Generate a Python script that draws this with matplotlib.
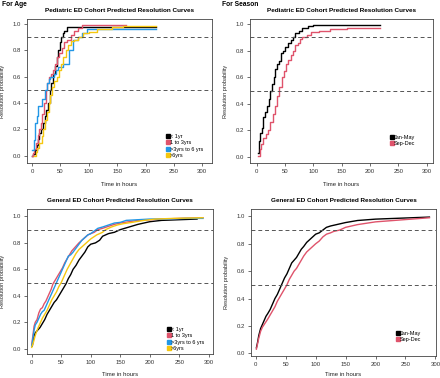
import matplotlib
matplotlib.use("Agg")
import matplotlib.pyplot as plt
from matplotlib.lines import Line2D

plt.rcParams['font.family'] = ['Liberation Sans', 'DejaVu Sans']

BLACK = "black"
RED = "#DF536B"
BLUE = "#2297E6"
GOLD = "#F5C710"

AGE_LABELS = ["< 1yr", "1 to 3yrs", ">3yrs to 6 yrs", ">6yrs"]
SEASON_LABELS = ["Jan-May", "Sep-Dec"]

# --- Pediatric ED cohort, by age (time in hours, resolution probability) ---
ped_lt1_t = [0, 2, 5, 8, 10, 13, 16, 19, 22, 25, 28, 31, 34, 37, 40, 43, 46, 49, 51, 54, 57, 61, 218]
ped_lt1_p = [0, 0.01, 0.04, 0.08, 0.13, 0.17, 0.2, 0.25, 0.3, 0.35, 0.4, 0.5, 0.55, 0.62, 0.68, 0.75,
             0.8, 0.86, 0.9, 0.93, 0.95, 0.98, 0.98]
ped_1to3_t = [0, 2, 4, 7, 10, 12, 15, 18, 21, 24, 27, 30, 33, 36, 40, 44, 48, 52, 56, 62, 68, 74, 80, 88, 165]
ped_1to3_p = [0, 0.02, 0.05, 0.1, 0.16, 0.2, 0.25, 0.32, 0.4, 0.5, 0.55, 0.6, 0.62, 0.65, 0.7, 0.75,
              0.78, 0.82, 0.86, 0.88, 0.92, 0.95, 0.97, 0.99, 0.99]
ped_3to6_t = [0, 3, 5, 8, 10, 18, 22, 26, 29, 32, 38, 42, 46, 55, 65, 72, 80, 88, 96, 218]
ped_3to6_p = [0.04, 0.12, 0.25, 0.3, 0.38, 0.43, 0.5, 0.55, 0.58, 0.6, 0.62, 0.65, 0.67, 0.7, 0.8,
              0.88, 0.9, 0.93, 0.96, 0.96]
ped_gt6_t = [3, 6, 9, 13, 17, 20, 23, 26, 29, 32, 35, 39, 43, 47, 51, 55, 59, 63, 68, 74, 80, 90,
             100, 115, 140, 160, 218]
ped_gt6_p = [0, 0.03, 0.06, 0.1, 0.15, 0.2, 0.27, 0.33, 0.4, 0.46, 0.52, 0.57, 0.6, 0.65, 0.7, 0.75,
             0.8, 0.84, 0.87, 0.88, 0.9, 0.93, 0.94, 0.96, 0.975, 0.985, 0.985]

# --- Pediatric ED cohort, by season ---
ped_jan_t = [2, 4, 6, 9, 12, 15, 18, 21, 24, 27, 30, 33, 36, 40, 43, 46, 50, 55, 60, 64, 68, 74, 80,
             90, 100, 130, 218]
ped_jan_p = [0.03, 0.12, 0.18, 0.22, 0.3, 0.34, 0.38, 0.44, 0.5, 0.55, 0.6, 0.66, 0.7, 0.72, 0.78,
             0.8, 0.83, 0.86, 0.88, 0.9, 0.93, 0.95, 0.97, 0.985, 0.99, 0.995, 0.995]
ped_sep_t = [2, 5, 8, 12, 16, 20, 24, 28, 32, 36, 40, 44, 48, 52, 56, 60, 64, 68, 72, 76, 80, 88, 96,
             110, 130, 160, 218]
ped_sep_p = [0.01, 0.06, 0.1, 0.14, 0.17, 0.2, 0.26, 0.32, 0.38, 0.46, 0.53, 0.6, 0.65, 0.7, 0.73,
             0.77, 0.8, 0.84, 0.86, 0.89, 0.9, 0.92, 0.94, 0.95, 0.96, 0.97, 0.97]

# --- General ED cohort, by age ---
gen_lt1_t = [1, 3, 6, 10, 14, 18, 22, 26, 30, 34, 38, 42, 46, 50, 54, 58, 62, 66, 70, 75, 80, 85, 90,
             95, 100, 108, 115, 120, 130, 140, 150, 165, 180, 200, 220, 250, 280]
gen_lt1_p = [0.02, 0.08, 0.12, 0.14, 0.16, 0.19, 0.22, 0.26, 0.29, 0.32, 0.35, 0.37, 0.4, 0.43, 0.46,
             0.49, 0.53, 0.56, 0.6, 0.63, 0.67, 0.7, 0.73, 0.77, 0.79, 0.8, 0.82, 0.85, 0.87, 0.88,
             0.9, 0.92, 0.94, 0.96, 0.97, 0.975, 0.98]
gen_1to3_t = [0, 2, 4, 6, 9, 12, 15, 18, 21, 24, 27, 30, 33, 36, 40, 44, 48, 52, 56, 60, 64, 68, 72,
              76, 80, 85, 90, 95, 100, 106, 112, 120, 130, 140, 150, 165, 180, 200, 220, 250, 290]
gen_1to3_p = [0.03, 0.1, 0.17, 0.2, 0.22, 0.27, 0.3, 0.31, 0.34, 0.36, 0.39, 0.42, 0.45, 0.49, 0.52,
              0.55, 0.58, 0.61, 0.65, 0.68, 0.71, 0.74, 0.76, 0.78, 0.8, 0.82, 0.84, 0.86, 0.87, 0.88,
              0.9, 0.91, 0.925, 0.94, 0.95, 0.96, 0.97, 0.975, 0.98, 0.985, 0.99]
gen_3to6_t = [0, 2, 4, 6, 9, 12, 15, 18, 21, 24, 27, 30, 34, 38, 42, 46, 50, 54, 58, 62, 66, 70, 75,
              80, 85, 90, 95, 100, 106, 112, 120, 130, 140, 150, 160, 180, 200, 230, 260, 290]
gen_3to6_p = [0.02, 0.08, 0.14, 0.18, 0.2, 0.23, 0.26, 0.28, 0.29, 0.32, 0.35, 0.38, 0.42, 0.46, 0.5,
              0.54, 0.58, 0.62, 0.66, 0.7, 0.71, 0.73, 0.76, 0.79, 0.82, 0.84, 0.86, 0.87, 0.89, 0.91,
              0.92, 0.935, 0.95, 0.955, 0.97, 0.975, 0.98, 0.98, 0.985, 0.985]
gen_gt6_t = [0, 3, 6, 10, 14, 18, 22, 26, 30, 34, 38, 42, 46, 50, 55, 60, 65, 70, 75, 80, 85, 90, 95,
             100, 110, 120, 125, 135, 145, 155, 170, 190, 210, 240, 290]
gen_gt6_p = [0.01, 0.05, 0.1, 0.15, 0.19, 0.23, 0.26, 0.29, 0.33, 0.37, 0.4, 0.43, 0.47, 0.5, 0.55,
             0.6, 0.64, 0.68, 0.72, 0.75, 0.77, 0.79, 0.81, 0.83, 0.86, 0.88, 0.9, 0.92, 0.935, 0.945,
             0.955, 0.97, 0.98, 0.985, 0.99]

# --- General ED cohort, by season ---
gen_jan_t = [1, 3, 5, 8, 11, 14, 17, 20, 24, 28, 32, 36, 40, 44, 48, 52, 56, 60, 64, 68, 72, 76, 80,
             85, 90, 95, 100, 106, 112, 118, 125, 135, 150, 170, 200, 230, 260, 290]
gen_jan_p = [0.04, 0.08, 0.13, 0.18, 0.21, 0.24, 0.27, 0.29, 0.32, 0.36, 0.4, 0.43, 0.47, 0.51, 0.55,
             0.58, 0.62, 0.66, 0.68, 0.7, 0.73, 0.76, 0.78, 0.81, 0.83, 0.85, 0.87, 0.88, 0.9, 0.92,
             0.93, 0.94, 0.955, 0.97, 0.98, 0.985, 0.99, 0.995]
gen_sep_t = [1, 3, 5, 8, 11, 14, 17, 20, 24, 28, 32, 36, 40, 44, 48, 52, 56, 60, 64, 68, 72, 76, 80,
             85, 90, 95, 100, 106, 112, 118, 125, 130, 140, 150, 170, 200, 230, 260, 290]
gen_sep_p = [0.03, 0.07, 0.11, 0.16, 0.19, 0.21, 0.23, 0.25, 0.28, 0.31, 0.34, 0.38, 0.41, 0.44, 0.47,
             0.5, 0.54, 0.57, 0.6, 0.62, 0.65, 0.68, 0.71, 0.74, 0.76, 0.78, 0.8, 0.82, 0.85, 0.87,
             0.88, 0.89, 0.9, 0.92, 0.94, 0.96, 0.97, 0.98, 0.99]

W, H = 440, 378


def rect(l, t, r, b):
    # pixel box -> figure fraction
    return [l / W, 1 - b / H, (r - l) / W, (b - t) / H]


def panel(ax, curves, labels, colors, title, xlim, ylim, leg_xy, steps=True, xpad=5.5):
    for (t, p), c in zip(curves, colors):
        if steps:
            ax.step(t, p, where="post", color=c, lw=1.0)
        else:
            ax.plot(t, p, color=c, lw=1.0)
    for h in (0.9, 0.5):
        ax.axhline(h, color="#555555", ls=(0, (4, 3)), lw=0.7)
    ax.set_xlim(*xlim)
    ax.set_ylim(*ylim)
    ax.set_xticks([0, 50, 100, 150, 200, 250, 300])
    ax.set_yticks([0.0, 0.2, 0.4, 0.6, 0.8, 1.0])
    ax.set_yticklabels(["0.0", "0.2", "0.4", "0.6", "0.8", "1.0"])
    ax.tick_params(labelsize=4.3, length=2.5, width=0.5, pad=2, colors="#333333", labelcolor="#333333")
    for s in ax.spines.values():
        s.set_linewidth(0.6)
        s.set_color("#444444")
    ax.set_title(title, fontsize=4.6, fontweight="bold", pad=5)
    ax.set_xlabel("Time in hours", fontsize=4.3, labelpad=xpad, color="#222222")
    ax.set_ylabel("Resolution probability", fontsize=4.0, labelpad=5, color="#222222")
    handles = [Line2D([], [], ls="none", marker="s", ms=2.2, color=c) for c in colors]
    ax.legend(handles, labels, loc="upper left", bbox_to_anchor=(leg_xy[0] / W, 1 - leg_xy[1] / H),
              bbox_transform=ax.figure.transFigure, frameon=False, fontsize=4.0,
              handlelength=0.6, handletextpad=0.1, labelspacing=0.25, borderpad=0,
              borderaxespad=0)


fig = plt.figure(figsize=(W / 100, H / 100), dpi=100)
age_colors = [BLACK, RED, BLUE, GOLD]
season_colors = [BLACK, RED]

ax1 = fig.add_axes(rect(27, 19, 212, 163))
panel(ax1, [(ped_lt1_t, ped_lt1_p), (ped_1to3_t, ped_1to3_p), (ped_3to6_t, ped_3to6_p),
            (ped_gt6_t, ped_gt6_p)], AGE_LABELS, age_colors,
      "Pediatric ED Cohort Predicted Resolution Curves", (-9, 317), (-0.055, 1.038), (166, 134))

ax2 = fig.add_axes(rect(250, 19, 433, 163))
panel(ax2, [(ped_jan_t, ped_jan_p), (ped_sep_t, ped_sep_p)], SEASON_LABELS, season_colors,
      "Pediatric ED Cohort Predicted Resolution Curves", (-11.8, 311), (-0.045, 1.038), (390, 135))

ax3 = fig.add_axes(rect(27, 209, 213, 354))
panel(ax3, [(gen_lt1_t, gen_lt1_p), (gen_1to3_t, gen_1to3_p), (gen_3to6_t, gen_3to6_p),
            (gen_gt6_t, gen_gt6_p)], AGE_LABELS, age_colors,
      "General ED Cohort Predicted Resolution Curves", (-8, 307), (-0.04, 1.056), (167, 327),
      steps=False, xpad=4.5)

ax4 = fig.add_axes(rect(251, 209, 436, 356))
panel(ax4, [(gen_jan_t, gen_jan_p), (gen_sep_t, gen_sep_p)], SEASON_LABELS, season_colors,
      "General ED Cohort Predicted Resolution Curves", (-8, 301), (-0.02, 1.054), (396, 331),
      steps=False, xpad=3.5)

fig.text(2 / W, 1 - 1 / H, "For Age", fontsize=4.8, fontweight="bold", va="top", ha="left")
fig.text(222 / W, 1 - 1 / H, "For Season", fontsize=4.8, fontweight="bold", va="top", ha="left")

fig.savefig("out.png", dpi=100)
